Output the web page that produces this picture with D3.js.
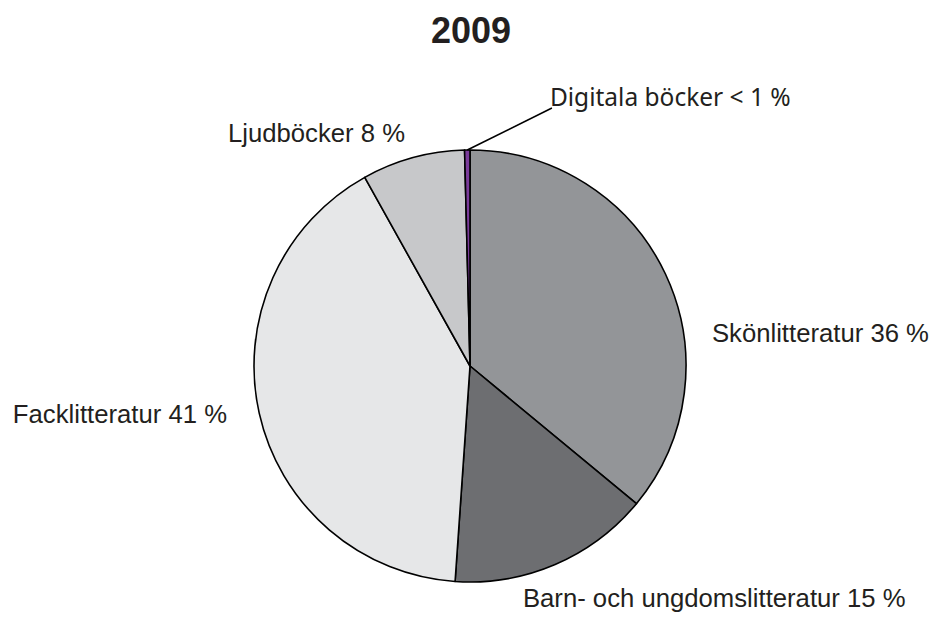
<!DOCTYPE html>
<html>
<head>
<meta charset="utf-8">
<script src="https://cdn.jsdelivr.net/npm/d3@7"></script>
<style>
  body { margin: 0; background: #fff; }
  text { font-family: "Liberation Sans", Arial, sans-serif; fill: #231f20; }
</style>
</head>
<body>
<svg id="canvas" width="934" height="621"></svg>
<script>
// data
let categories = ['Skönlitteratur', 'Barn- och ungdomslitteratur', 'Facklitteratur', 'Ljudböcker', 'Digitala böcker'];
let shares = [36.0, 15.1, 40.8, 7.7, 0.4];
let labels = ['Skönlitteratur 36 %', 'Barn- och ungdomslitteratur 15 %', 'Facklitteratur 41 %', 'Ljudböcker 8 %', 'Digitala böcker < 1 %'];
let colors = ['#939598', '#6d6e71', '#e6e7e8', '#c7c8ca', '#7a3b9a'];

let width = 934, height = 621;
let cx = 470, cy = 366, r = 216;

// label placement, in units of the radius from the centre
let labelPos = [
  { x: 1.12, y: -0.111, anchor: 'start' },
  { x: 0.245, y: 1.116, anchor: 'start' },
  { x: -1.125, y: 0.264, anchor: 'end' },
  { x: -0.301, y: -1.037, anchor: 'end' },
  { x: 0.37, y: -1.204, anchor: 'start' }
];

let canvas = d3.select('#canvas');

canvas.append('text')
  .attr('x', cx + 1)
  .attr('y', 43)
  .attr('text-anchor', 'middle')
  .style('font-size', '36px')
  .style('font-weight', 'bold')
  .text('2009');

let pie = d3.pie().sort(null).value(d => d);
let arcs = pie(shares);
let arc = d3.arc().innerRadius(0).outerRadius(r);

let g = canvas.append('g').attr('transform', `translate(${cx},${cy})`);

g.selectAll('path')
  .data(arcs)
  .enter()
  .append('path')
  .attr('d', arc)
  .attr('fill', (d, i) => colors[i])
  .attr('stroke', '#000')
  .attr('stroke-width', 1.6)
  .attr('stroke-linejoin', 'round');

// leader line for the tiny digital slice
let dig = arcs[4];
let mid = (dig.startAngle + dig.endAngle) / 2;
g.append('line')
  .attr('x1', Math.sin(mid) * r)
  .attr('y1', -Math.cos(mid) * r)
  .attr('x2', labelPos[4].x * r + 2)
  .attr('y2', labelPos[4].y * r + 2)
  .attr('stroke', '#000')
  .attr('stroke-width', 1.6);

g.selectAll('text.lbl')
  .data(labels)
  .enter()
  .append('text')
  .attr('class', 'lbl')
  .attr('x', (d, i) => labelPos[i].x * r)
  .attr('y', (d, i) => labelPos[i].y * r)
  .attr('text-anchor', (d, i) => labelPos[i].anchor)
  .style('font-size', (d, i) => i === 4 ? '24.5px' : '25.7px')
  .style('font-family', (d, i) => i === 4 ? '"Noto Sans", sans-serif' : null)
  .text(d => d);
</script>
</body>
</html>
